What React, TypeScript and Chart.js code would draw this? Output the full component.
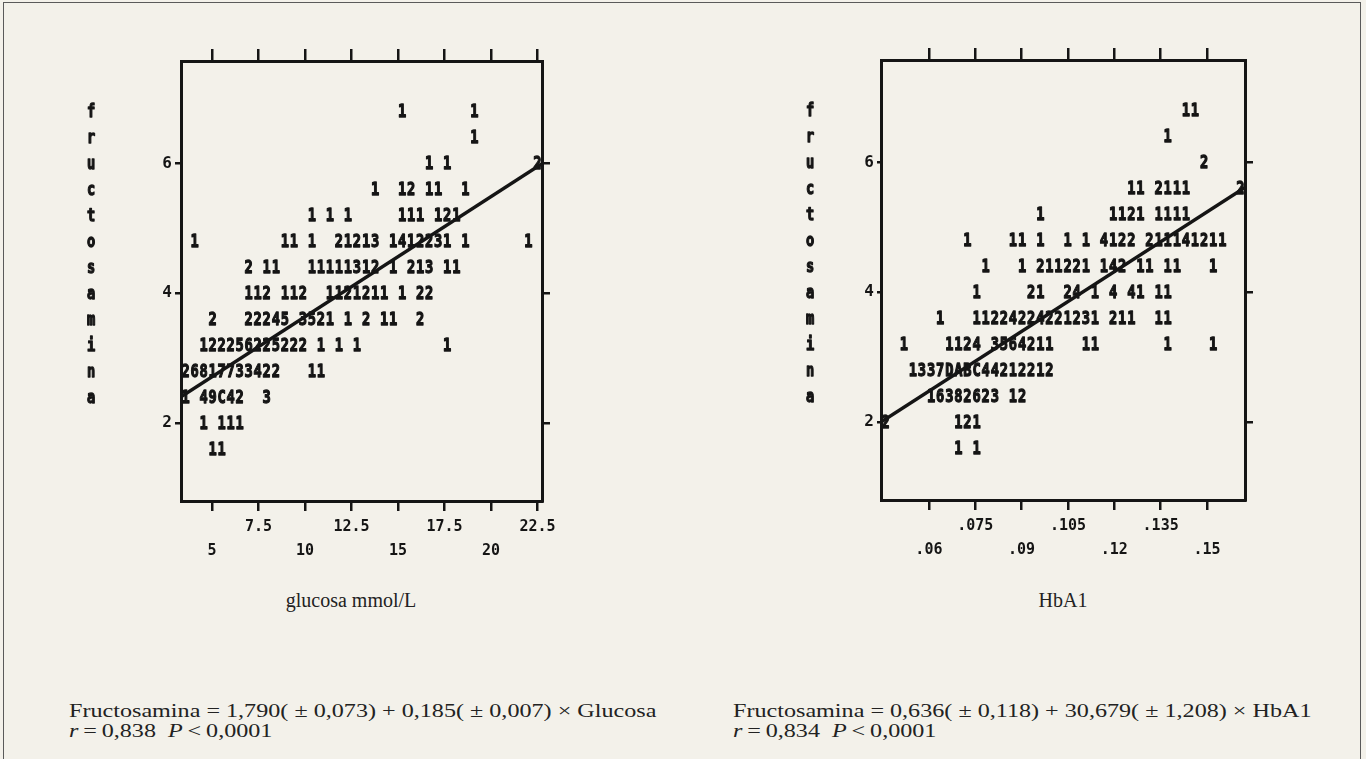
import React, { useEffect, useRef } from "react";
import { Chart, registerables } from "chart.js";

Chart.register(...registerables);

const INK = "#151515";
const PAPER = "#f3f1ea";
const GLYPH_FONT = '"DejaVu Sans Mono", "Liberation Mono", monospace';

// Printer rows (fructosamina, mmol/L) shared by both panels
const ROW_Y = [6.8, 6.4, 6.0, 5.6, 5.2, 4.8, 4.4, 4.0, 3.6, 3.2, 2.8, 2.4, 2.0, 1.6];
const Y_TICKS = [2, 4, 6];
const Y_MIN = 0.8;
const Y_MAX = 7.58;
const PRINTER_COLS = 40;
const Y_TITLE = "fructosamina";

// Panel 1: glucosa mmol/L
const GLU_RANGE = [3.33, 22.74];
const GLU_TICKS = [5, 7.5, 10, 12.5, 15, 17.5, 20, 22.5];
const GLU_TICK_LABELS = ["5", "7.5", "10", "12.5", "15", "17.5", "20", "22.5"];
const GLU_FIT = [1.79, 0.185];
// each row: [start column, counts printed from that column]
const GLU_ROWS: [number, string][][] = [
  [[24, "1"], [32, "1"]],
  [[32, "1"]],
  [[27, "1 1"], [39, "2"]],
  [[21, "1  12 11  1"]],
  [[14, "1 1 1     111 121"]],
  [[1, "1"], [11, "11 1  21213 1412231 1"], [38, "1"]],
  [[7, "2 11"], [14, "11111312 1 213 11"]],
  [[7, "112 112  1121211 1 22"]],
  [[3, "2"], [7, "22245 3521 1 2 11  2"]],
  [[2, "122256225222 1 1 1"], [29, "1"]],
  [[0, "26817733422   11"]],
  [[0, "1 49C42  3"]],
  [[2, "1 111"]],
  [[3, "11"]],
];

// Panel 2: HbA1
const HBA_RANGE = [0.0445, 0.1623];
const HBA_TICKS = [0.06, 0.075, 0.09, 0.105, 0.12, 0.135, 0.15];
const HBA_TICK_LABELS = [".06", ".075", ".09", ".105", ".12", ".135", ".15"];
const HBA_FIT = [0.636, 30.679];
const HBA_ROWS: [number, string][][] = [
  [[33, "11"]],
  [[31, "1"]],
  [[35, "2"]],
  [[27, "11 2111"], [39, "2"]],
  [[17, "1"], [25, "1121 1111"]],
  [[9, "1"], [14, "11 1  1 1 4122 211141211"]],
  [[11, "1"], [15, "1 211221 142 11 11"], [36, "1"]],
  [[10, "1"], [16, "21  24 1 4 41 11"]],
  [[6, "1"], [10, "11224224221231 211  11"]],
  [[2, "1"], [7, "1124 3564211   11"], [31, "1"], [36, "1"]],
  [[3, "1337DABC44212212"]],
  [[5, "16382623 12"]],
  [[0, "2"], [8, "121"]],
  [[8, "1 1"]],
];

type Pt = { x: number; y: number; ch: string };

function printerPoints(rows: [number, string][][], range: number[]): Pt[] {
  const w = (range[1] - range[0]) / PRINTER_COLS;
  const pts: Pt[] = [];
  rows.forEach((segs, r) => {
    segs.forEach(([start, txt]) => {
      for (let i = 0; i < txt.length; i++) {
        const ch = txt[i];
        if (ch === " ") continue;
        pts.push({ x: range[0] + (start + i + 0.5) * w, y: ROW_Y[r], ch });
      }
    });
  });
  return pts;
}

const printerPlugin = {
  id: "printerGlyphs",
  beforeDatasetsDraw(chart: any, _args: any, opts: any) {
    const ctx = chart.ctx;
    const ds = chart.data.datasets[1];
    const meta = chart.getDatasetMeta(1);
    ctx.save();
    ctx.fillStyle = INK;
    ctx.strokeStyle = INK;
    ctx.lineWidth = 1.3;
    ctx.lineJoin = "round";
    ctx.font = `bold 18px ${GLYPH_FONT}`;
    ctx.textAlign = "center";
    ctx.textBaseline = "middle";
    const draw = (ch: string, x: number, y: number) => {
      ctx.save();
      ctx.translate(x, y);
      ctx.scale(0.76, 1);
      ctx.fillText(ch, 0, 1);
      ctx.strokeText(ch, 0, 1);
      ctx.restore();
    };
    meta.data.forEach((el: any, i: number) => draw(ds.data[i].ch, el.x, el.y));
    const yScale = chart.scales.y;
    const tx = chart.chartArea.left - opts.titleOffset;
    for (let i = 0; i < Y_TITLE.length; i++) {
      draw(Y_TITLE[i], tx, yScale.getPixelForValue(ROW_Y[i]));
    }
    ctx.restore();
  },
};

type PanelCfg = {
  range: number[];
  ticks: number[];
  labels: string[];
  rows: [number, string][][];
  fit: number[];
  leftW: number;
  rightW: number;
  topH: number;
  bottomH: number;
  titleOffset: number;
  yTickLen: number;
  yPad: number;
};

const tickFont = { family: GLYPH_FONT, size: 15, weight: "bold" as const, lineHeight: 1.6 };

function makeConfig(p: PanelCfg): any {
  const setX = (s: any) => {
    s.ticks = p.ticks.map((v) => ({ value: v }));
  };
  const setY = (s: any) => {
    s.ticks = Y_TICKS.map((v) => ({ value: v }));
  };
  const gridBase = { drawOnChartArea: false, drawTicks: true, color: INK, lineWidth: 2.5 };
  const border = { display: true, color: INK, width: 3 };
  const x0 = p.range[0];
  const x1 = p.range[1];
  return {
    type: "scatter",
    data: {
      datasets: [
        {
          type: "line",
          data: [
            { x: x0, y: p.fit[0] + p.fit[1] * x0 },
            { x: x1, y: p.fit[0] + p.fit[1] * x1 },
          ],
          borderColor: INK,
          borderWidth: 3.5,
          pointRadius: 0,
          xAxisID: "x",
          yAxisID: "y",
        },
        {
          type: "scatter",
          data: printerPoints(p.rows, p.range),
          pointRadius: 0,
          xAxisID: "x",
          yAxisID: "y",
        },
      ],
    },
    options: {
      responsive: false,
      animation: false,
      events: [],
      layout: { padding: 0, autoPadding: false },
      plugins: {
        legend: { display: false },
        tooltip: { enabled: false },
        printerGlyphs: { titleOffset: p.titleOffset },
      },
      scales: {
        x: {
          type: "linear",
          position: "bottom",
          min: x0,
          max: x1,
          afterBuildTicks: setX,
          afterFit: (s: any) => {
            s.height = p.bottomH;
          },
          grid: { ...gridBase, tickLength: 10 },
          border,
          ticks: {
            autoSkip: false,
            maxRotation: 0,
            minRotation: 0,
            padding: 4,
            color: INK,
            font: tickFont,
            callback: (_v: any, i: number) => (i % 2 === 0 ? ["", p.labels[i]] : p.labels[i]),
          },
        },
        x2: {
          type: "linear",
          position: "top",
          min: x0,
          max: x1,
          afterBuildTicks: setX,
          afterFit: (s: any) => {
            s.height = p.topH;
          },
          grid: { ...gridBase, tickLength: 12 },
          border,
          ticks: { display: false },
        },
        y: {
          type: "linear",
          position: "left",
          min: Y_MIN,
          max: Y_MAX,
          afterBuildTicks: setY,
          afterFit: (s: any) => {
            s.width = p.leftW;
          },
          grid: { ...gridBase, tickLength: p.yTickLen },
          border,
          ticks: {
            padding: p.yPad,
            color: INK,
            font: { family: GLYPH_FONT, size: 16, weight: "bold" },
            callback: (v: any) => String(v),
          },
        },
        y2: {
          type: "linear",
          position: "right",
          min: Y_MIN,
          max: Y_MAX,
          afterBuildTicks: setY,
          afterFit: (s: any) => {
            s.width = p.rightW;
          },
          grid: { ...gridBase, tickLength: 8 },
          border,
          ticks: { display: false },
        },
      },
    },
    plugins: [printerPlugin],
  };
}

const CANVAS_W = 683;
const CANVAS_H = 580;

function Panel({ cfg, left }: { cfg: PanelCfg; left: number }) {
  const ref = useRef<HTMLCanvasElement | null>(null);
  useEffect(() => {
    if (!ref.current) return;
    const chart = new Chart(ref.current, makeConfig(cfg));
    return () => chart.destroy();
  }, [cfg]);
  return (
    <canvas
      ref={ref}
      width={CANVAS_W}
      height={CANVAS_H}
      style={{ position: "absolute", left, top: 0, width: CANVAS_W, height: CANVAS_H }}
    />
  );
}

const GLU_PANEL: PanelCfg = {
  range: GLU_RANGE,
  ticks: GLU_TICKS,
  labels: GLU_TICK_LABELS,
  rows: GLU_ROWS,
  fit: GLU_FIT,
  leftW: 181,
  rightW: CANVAS_W - 542,
  topH: 61,
  bottomH: CANVAS_H - 501,
  titleOffset: 90,
  yTickLen: 6,
  yPad: 3,
};

const HBA_PANEL: PanelCfg = {
  range: HBA_RANGE,
  ticks: HBA_TICKS,
  labels: HBA_TICK_LABELS,
  rows: HBA_ROWS,
  fit: HBA_FIT,
  leftW: 881 - CANVAS_W,
  rightW: CANVAS_W - (1245 - CANVAS_W),
  topH: 60,
  bottomH: CANVAS_H - 500,
  titleOffset: 71,
  yTickLen: 4,
  yPad: 3,
};

const serif = '"Liberation Serif", "DejaVu Serif", serif';

export default function App() {
  useEffect(() => {
    document.body.style.margin = "0";
  }, []);
  const cap: React.CSSProperties = {
    position: "absolute",
    fontFamily: serif,
    color: "#222",
    whiteSpace: "pre",
  };
  const formula: React.CSSProperties = {
    ...cap,
    top: 701,
    fontSize: 19,
    lineHeight: "20px",
    transform: "scaleX(1.27)",
    transformOrigin: "0 0",
  };
  return (
    <div
      style={{
        position: "fixed",
        left: 0,
        top: 0,
        width: 1366,
        height: 759,
        background: PAPER,
        overflow: "hidden",
      }}
    >
      <div
        style={{
          position: "absolute",
          left: 3,
          top: 2,
          width: 1358,
          height: 780,
          border: "1.5px solid #5a5a5a",
          boxSizing: "border-box",
        }}
      />
      <Panel cfg={GLU_PANEL} left={0} />
      <Panel cfg={HBA_PANEL} left={CANVAS_W} />
      <div style={{ ...cap, left: 351, top: 600, fontSize: 20, transform: "translate(-50%, -50%)" }}>
        glucosa mmol/L
      </div>
      <div style={{ ...cap, left: 1063, top: 600, fontSize: 20, transform: "translate(-50%, -50%)" }}>
        HbA1
      </div>
      <div style={{ ...formula, left: 69 }}>
        <div>Fructosamina = 1,790( ± 0,073) + 0,185( ± 0,007) × Glucosa</div>
        <div>
          <i>r</i>{"\u2009=\u2009"}0,838{"  "}<i>P</i>{"\u2009<\u2009"}0,0001
        </div>
      </div>
      <div style={{ ...formula, left: 733 }}>
        <div>Fructosamina = 0,636( ± 0,118) + 30,679( ± 1,208) × HbA1</div>
        <div>
          <i>r</i>{"\u2009=\u2009"}0,834{"  "}<i>P</i>{"\u2009<\u2009"}0,0001
        </div>
      </div>
    </div>
  );
}
